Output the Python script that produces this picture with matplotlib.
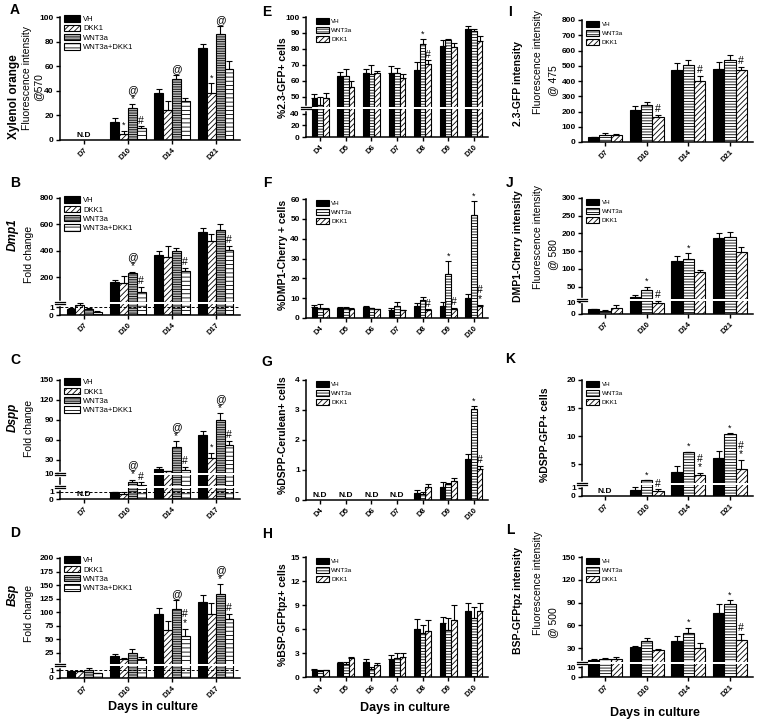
import numpy as np
import matplotlib.pyplot as plt

plt.rcParams['font.family'] = ['Liberation Sans', 'DejaVu Sans']
plt.rcParams['hatch.linewidth'] = 0.6

ND = np.nan

# categories
days_a = ['D7', 'D10', 'D14', 'D21']
days_gene = ['D7', 'D10', 'D14', 'D17']
days_flow = ['D4', 'D5', 'D6', 'D7', 'D8', 'D9', 'D10']
groups4 = ['VH', 'DKK1', 'WNT3a', 'WNT3a+DKK1']
groups3 = ['VH', 'WNT3a', 'DKK1']

# A xylenol orange (VH, DKK1, WNT3a, WNT3a+DKK1)
a_mean = [[ND, 15, 38, 75], [ND, 5, 24, 38], [ND, 26, 50, 86], [ND, 10, 32, 58]]
a_err = [[ND, 2.5, 3.5, 3], [ND, 2.5, 8, 8], [ND, 3, 3, 7], [ND, 1, 2.5, 6]]
a_marks = [(1, 1, '*'), (1, 2, '@\n*'), (1, 3, '#'), (2, 2, '@'), (3, 1, '*'), (3, 2, '@')]

# B Dmp1
b_mean = [[0.8, 165, 370, 540], [1.25, 160, 355, 475], [0.8, 230, 400, 555], [0.45, 85, 245, 405]]
b_err = [[0.1, 15, 30, 35], [0.3, 50, 80, 50], [0.1, 12, 25, 50], [0.1, 40, 25, 30]]
b_marks = [(1, 2, '@\n*'), (1, 3, '#'), (2, 3, '#'), (3, 3, '#')]

# C Dspp
c_mean = [[ND, 0.9, 16.5, 68], [ND, 0.7, 13, 33], [ND, 4.4, 49, 90], [ND, 2.7, 15, 52]]
c_err = [[ND, 0.1, 2.5, 5], [ND, 0.2, 1, 8], [ND, 1.5, 9, 10], [ND, 1.7, 5, 7]]
c_marks = [(1, 2, '@\n*'), (1, 3, '#'), (2, 2, '@\n*'), (2, 3, '#'), (3, 1, '*'),
           (3, 2, '@\n*'), (3, 3, '#')]

# D Bsp
d_mean = [[0.9, 19, 97, 119], [0.9, 12.5, 67, 97], [1.1, 24, 106, 133], [0.6, 12.5, 56, 87]]
d_err = [[0.05, 3, 10, 13], [0.05, 3, 16, 19], [0.2, 7, 16, 18], [0.05, 4.5, 13, 10]]
d_marks = [(2, 2, '@'), (2, 3, '#\n*'), (3, 2, '@\n*'), (3, 3, '#')]

# E %2.3-GFP+ cells (VH, WNT3a, DKK1)
e_mean = [[49, 63, 65, 65, 67, 82, 92.5], [45, 63, 64.5, 65, 83, 85.5, 91],
          [49, 56, 65, 62, 70.5, 81.5, 85]]
e_err = [[3, 2.5, 2.5, 4, 4.5, 3.3, 1.6], [5, 4.5, 5.5, 3, 3, 1, 1.6],
         [3.5, 4, 1.4, 2, 2.3, 2.5, 3]]
e_marks = [(4, 1, '*'), (4, 2, '#')]

# F %DMP1-Cherry+ cells
f_mean = [[5.5, 5, 5.3, 4, 6.2, 6.2, 10.3], [5.2, 5, 4.8, 6.2, 9, 22, 52],
          [4.5, 4.5, 4.3, 3.8, 4, 4.5, 6]]
f_err = [[1.2, 0.5, 0.9, 1.2, 1.5, 2, 2], [2, 0.7, 0.3, 1.8, 1.8, 6.5, 7],
         [0.5, 0.5, 0.3, 0.3, 0.4, 0.5, 0.8]]
f_marks = [(4, 2, '#'), (5, 1, '*'), (5, 2, '#'), (6, 1, '*'), (6, 2, '#\n*')]

# G %DSPP-Cerulean+ cells
g_mean = [[ND, ND, ND, ND, 0.25, 0.45, 1.37], [ND, ND, ND, ND, 0.2, 0.52, 3.02],
          [ND, ND, ND, ND, 0.42, 0.65, 1.05]]
g_err = [[ND, ND, ND, ND, 0.08, 0.15, 0.15], [ND, ND, ND, ND, 0.08, 0.05, 0.1],
         [ND, ND, ND, ND, 0.1, 0.1, 0.1]]
g_marks = [(6, 1, '*'), (6, 2, '#')]

# H %BSP-GFPtpz+ cells
h_mean = [[0.9, 1.8, 1.9, 2.2, 6.0, 6.8, 8.2], [0.75, 1.6, 1.0, 2.4, 5.5, 5.9, 7.4],
          [0.85, 2.35, 1.5, 2.5, 5.8, 7.1, 8.2]]
h_err = [[0.1, 0.1, 0.4, 0.5, 1.2, 0.7, 1.1], [0.15, 0.3, 0.2, 0.6, 1.0, 1.5, 1.3],
         [0.05, 0.1, 0.2, 0.5, 1.3, 1.9, 1.0]]
h_marks = []

# I 2.3-GFP intensity
i_mean = [[30, 210, 475, 478], [45, 245, 505, 535], [45, 165, 400, 472]]
i_err = [[5, 25, 45, 45], [12, 18, 30, 35], [5, 15, 35, 20]]
i_marks = [(1, 2, '#'), (2, 2, '#'), (3, 2, '#')]

# J DMP1-Cherry intensity
j_mean = [[4, 20, 123, 186], [2.5, 40, 129, 190], [5, 9.4, 90, 147]]
j_err = [[0.5, 5, 13, 14], [0.7, 10, 15, 13], [2.5, 2, 8, 15]]
j_marks = [(1, 1, '*'), (1, 2, '#'), (2, 1, '*')]

# K %DSPP-GFP+ cells
k_mean = [[ND, 0.76, 3.5, 6.1], [ND, 2.1, 7.1, 10.4], [ND, 0.6, 3.0, 4.1]]
k_err = [[ND, 0.3, 1.2, 1.2], [ND, 0.05, 0.1, 0.1], [ND, 0.2, 0.4, 1.6]]
k_marks = [(1, 1, '*'), (1, 2, '#'), (2, 1, '*'), (2, 2, '#\n*'), (3, 1, '*'), (3, 2, '#\n*')]

# L BSP-GFPtpz intensity
l_mean = [[14, 32, 40, 76], [16, 39, 50, 88], [16, 27, 30, 41]]
l_err = [[2, 1.5, 6, 12], [1.5, 4.5, 7, 5], [3, 2.5, 7, 8]]
l_marks = [(2, 1, '*'), (3, 1, '*'), (3, 2, '#')]

W, H = 767, 721
fig = plt.figure(figsize=(W / 100, H / 100), dpi=100)

style4 = [dict(color='black'), dict(color='white', hatch='//////'),
          dict(color='#b8b8b8', hatch='-------'), dict(color='white', hatch='----')]
style3 = [dict(color='black'), dict(color='white', hatch='------'),
          dict(color='white', hatch='//////')]


def add_ax(x0, x1, y0, y1):
    return fig.add_axes([x0 / W, 1 - y1 / H, (x1 - x0) / W, (y1 - y0) / H])


def make_scale(vals, pos):
    v = np.array(vals, float)
    p = np.array(pos, float)
    s0 = (p[1] - p[0]) / (v[1] - v[0])
    s1 = (p[-1] - p[-2]) / (v[-1] - v[-2])
    v = np.r_[v[0] - 1e6, v, v[-1] + 1e6]
    p = np.r_[p[0] - 1e6 * s0, p, p[-1] + 1e6 * s1]
    return (lambda x: np.interp(x, v, p)), (lambda y: np.interp(y, p, v))


def draw(ax, days, groups, means, errs, styles, width, top, ticks, knots=None,
         breaks=(), marks=(), dashed=False, leg=None):
    x = np.arange(len(days))
    n = len(groups)
    if knots is not None:
        fwd, inv = make_scale(*knots)
        ax.set_yscale('function', functions=(fwd, inv))
    for i in range(n):
        xi = x + (i - (n - 1) / 2) * width
        m = np.array(means[i], float)
        e = np.array(errs[i], float)
        ax.bar(xi, m, width, label=groups[i], edgecolor='black', linewidth=0.8,
               zorder=2, **styles[i])
        ax.errorbar(xi, m, yerr=[np.zeros(len(e)), e], fmt='none', ecolor='black',
                    elinewidth=0.8, capsize=2.2, capthick=0.8, zorder=3)
    for d, g, s in marks:
        xi = d + (g - (n - 1) / 2) * width
        y = means[g][d] + errs[g][d]
        fs = 6.5 if s == '*' else 7.5
        ax.annotate(s, (xi, y), xytext=(0, 0.5), textcoords='offset points',
                    ha='center', va='bottom', fontsize=fs, linespacing=0.85,
                    zorder=5)
    nd = [d for d in range(len(days)) if all(np.isnan(means[g][d]) for g in range(n))]
    for d in nd:
        ax.annotate('N.D', (d, 0), xytext=(0, 1), textcoords='offset points',
                    ha='center', va='bottom', fontsize=6, fontweight='bold')
    ax.set_ylim(0, top)
    ax.set_xlim(-0.55, len(days) - 0.45)
    ax.set_yticks(ticks)
    ax.set_yticklabels([str(t) for t in ticks], fontsize=6, fontweight='bold')
    ax.set_xticks(x)
    ax.set_xticklabels(days, rotation=45, ha='right', rotation_mode='anchor',
                       fontsize=5.5, fontweight='bold')
    ax.tick_params(length=3, width=1, pad=1.5)
    ax.minorticks_off()
    for sp in ['top', 'right']:
        ax.spines[sp].set_visible(False)
    for sp in ['left', 'bottom']:
        ax.spines[sp].set_linewidth(1.1)
    if dashed:
        ax.axhline(1, color='black', lw=0.7, ls=(0, (3, 2)), zorder=4)
    if knots is not None:
        trans = ax.get_yaxis_transform()
        for b in breaks:
            p = fwd(b)
            lo, hi = inv(p - 3), inv(p + 3)
            ax.axhspan(lo, hi, xmin=0.01, xmax=1, color='white', lw=0, zorder=2.6)
            ax.plot([0, 0], [lo, hi], color='white', lw=2.5, transform=trans,
                    clip_on=False, zorder=6)
            for yy in (lo, hi):
                ax.plot([-0.03, 0.03], [yy, yy], color='black', lw=0.9,
                        transform=trans, clip_on=False, zorder=7)
    if leg is not None:
        ax.legend(loc='upper left', bbox_to_anchor=leg['anchor'], frameon=False,
                  fontsize=leg['fs'], handlelength=2.1, handleheight=leg['hh'],
                  labelspacing=leg['ls'], borderaxespad=0, borderpad=0.1,
                  handletextpad=0.4)


leg1 = dict(anchor=(0.02, 1.02), fs=5.5, hh=0.9, ls=0.2)
leg2 = dict(anchor=(0.05, 1.0), fs=4.5, hh=1.1, ls=0.45)
leg3 = dict(anchor=(0.02, 1.0), fs=4.5, hh=1.1, ls=0.45)

# column 1
ax = add_ax(60, 240, 17, 140)
draw(ax, days_a, groups4, a_mean, a_err, style4, 0.2, 100, range(0, 101, 20),
     marks=a_marks, leg=leg1)
ax = add_ax(60, 240, 198, 315)
draw(ax, days_gene, groups4, b_mean, b_err, style4, 0.2, 800, [0, 1, 200, 400, 600, 800],
     knots=([0, 1.5, 800], [0, 35, 354]), breaks=[1.5], marks=b_marks,
     dashed=True, leg=leg1)
ax = add_ax(60, 240, 380, 499)
draw(ax, days_gene, groups4, c_mean, c_err, style4, 0.2, 150,
     [0, 1, 10, 30, 60, 90, 120, 150],
     knots=([0, 1.7, 10, 150], [0, 37, 77, 357]), breaks=[1.7, 9.3],
     marks=c_marks, dashed=True, leg=leg1)
ax = add_ax(60, 240, 558, 678)
draw(ax, days_gene, groups4, d_mean, d_err, style4, 0.2, 200,
     [0, 1, 25, 50, 75, 100, 125, 150, 175, 200],
     knots=([0, 1.7, 200], [0, 38, 357]), breaks=[1.7], marks=d_marks,
     dashed=True, leg=leg1)

# column 2
ax = add_ax(306, 488, 17, 137)
draw(ax, days_flow, groups3, e_mean, e_err, style3, 0.22, 100,
     [0, 20, 40, 50, 60, 70, 80, 90, 100],
     knots=([0, 40, 50, 100], [0, 70, 120, 358]), breaks=[43.5], marks=e_marks, leg=leg2)
ax = add_ax(306, 488, 199, 318)
draw(ax, days_flow, groups3, f_mean, f_err, style3, 0.22, 60, range(0, 61, 10),
     marks=f_marks, leg=leg2)
ax = add_ax(306, 488, 380, 500)
draw(ax, days_flow, groups3, g_mean, g_err, style3, 0.22, 4, range(0, 5),
     marks=g_marks, leg=leg2)
ax = add_ax(306, 488, 557, 677)
draw(ax, days_flow, groups3, h_mean, h_err, style3, 0.22, 15, range(0, 16, 3),
     marks=h_marks, leg=leg2)

# column 3
ax = add_ax(582, 753, 20, 142)
draw(ax, days_a, groups3, i_mean, i_err, style3, 0.27, 800, range(0, 801, 100),
     marks=i_marks, leg=leg3)
ax = add_ax(582, 753, 198, 314)
draw(ax, days_a, groups3, j_mean, j_err, style3, 0.27, 300,
     [0, 10, 50, 100, 150, 200, 250, 300],
     knots=([0, 12, 300], [0, 42, 348]), breaks=[11.6], marks=j_marks, leg=leg3)
ax = add_ax(582, 753, 380, 496)
draw(ax, days_a, groups3, k_mean, k_err, style3, 0.27, 20, [0, 1, 5, 10, 15, 20],
     knots=([0, 1.4, 20], [0, 35, 346]), breaks=[1.4], marks=k_marks, leg=leg3)
ax = add_ax(582, 753, 557, 677)
draw(ax, days_a, groups3, l_mean, l_err, style3, 0.27, 150,
     [0, 10, 30, 60, 90, 120, 150],
     knots=([0, 12, 13, 150], [0, 36, 48, 362]), breaks=[12.5], marks=l_marks, leg=leg3)


def ftext(x, y, s, **kw):
    fig.text(x / W, 1 - y / H, s, ha='center', va='center', **kw)


# panel letters
for s, x, y in [('A', 15, 10), ('B', 15, 183), ('C', 15, 360), ('D', 15, 533),
                ('E', 267, 12), ('F', 267, 183), ('G', 267, 362), ('H', 267, 534),
                ('I', 510, 12), ('J', 510, 183), ('K', 510, 359), ('L', 510, 530)]:
    ftext(x, y, s, fontsize=10, fontweight='bold')

# y labels
ftext(14, 97, 'Xylenol orange', rotation=90, fontsize=8.5, fontweight='bold')
ftext(27, 78, 'Fluorescence intensity', rotation=90, fontsize=7.5)
ftext(38, 87, '@570', rotation=90, fontsize=7.5)
for s, y, y2 in [('Dmp1', 235, 254), ('Dspp', 417, 428), ('Bsp', 595, 613)]:
    ftext(13, y, s, rotation=90, fontsize=8.5, fontweight='bold', fontstyle='italic')
    ftext(29, y2, 'Fold change', rotation=90, fontsize=7.5)
for s, y in [('%2.3-GFP+ cells', 78), ('%DMP1-Cherry + cells', 255),
             ('%DSPP-Cerulean+ cells', 435), ('%BSP-GFPtpz+ cells', 615)]:
    ftext(283, y, s, rotation=90, fontsize=7.5, fontweight='bold')
for s, y, y2, s3, y3 in [('2.3-GFP intensity', 84, 62, '@ 475', 81),
                         ('DMP1-Cherry intensity', 246, 237, '@ 580', 255),
                         ('BSP-GFPtpz intensity', 600, 583, '@ 500', 623)]:
    ftext(518, y, s, rotation=90, fontsize=7.5, fontweight='bold')
    ftext(538, y2, 'Fluorescence intensity', rotation=90, fontsize=7.5)
    ftext(553, y3, s3, rotation=90, fontsize=7.5)
ftext(545, 435, '%DSPP-GFP+ cells', rotation=90, fontsize=7.5, fontweight='bold')

# x labels
for x, y in [(153, 707), (405, 708), (655, 713)]:
    ftext(x, y, 'Days in culture', fontsize=9, fontweight='bold')

fig.savefig('out.png', dpi=100)
